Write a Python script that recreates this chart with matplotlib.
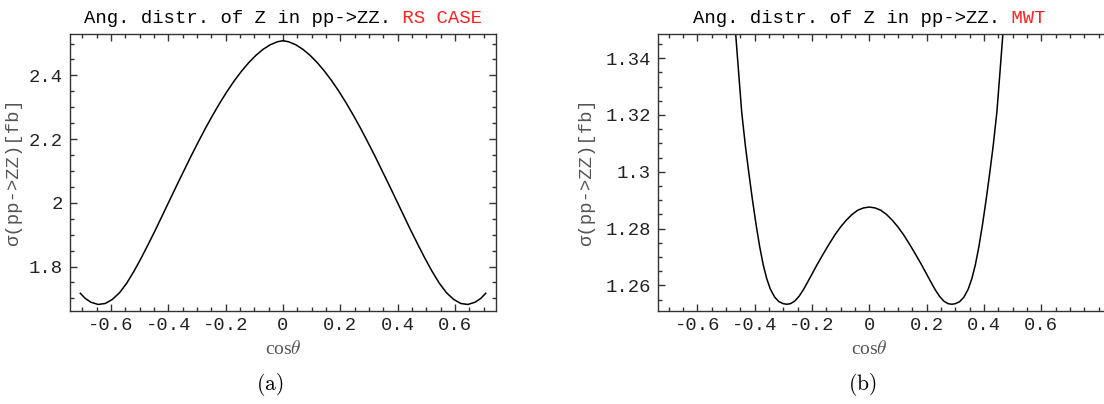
import numpy as np
import matplotlib
matplotlib.use("Agg")
import matplotlib.pyplot as plt
from matplotlib.offsetbox import TextArea, HPacker, AnchoredOffsetbox
from matplotlib.ticker import MultipleLocator

plt.rcParams['mathtext.fontset'] = 'cm'

# ---- data ----
# (a) RS case (symmetric in cos(theta)); left half read, mirrored for right half
rs_cos_half = [-0.707, -0.69, -0.67, -0.645, -0.62, -0.595, -0.57, -0.545, -0.52,
               -0.495, -0.47, -0.445, -0.42, -0.395, -0.37, -0.345, -0.32, -0.295,
               -0.27, -0.245, -0.22, -0.195, -0.17, -0.145, -0.12, -0.095, -0.07,
               -0.045, -0.02, 0.0]
rs_sigma_half = [1.716, 1.700, 1.688, 1.681, 1.684, 1.697, 1.718, 1.748, 1.785,
                 1.826, 1.870, 1.915, 1.962, 2.009, 2.056, 2.102, 2.148, 2.192,
                 2.235, 2.2755, 2.314, 2.350, 2.383, 2.413, 2.4395, 2.4625, 2.4815,
                 2.496, 2.5055, 2.509]

# (b) MWT case (symmetric in cos(theta))
mwt_cos_half = [-0.50, -0.48, -0.466, -0.455, -0.445, -0.432, -0.42, -0.408, -0.395,
                -0.382, -0.37, -0.358, -0.345, -0.33, -0.315, -0.30, -0.288, -0.275,
                -0.26, -0.245, -0.23, -0.215, -0.20, -0.18, -0.16, -0.14, -0.12,
                -0.10, -0.08, -0.06, -0.04, -0.02, 0.0]
mwt_sigma_half = [1.395, 1.368, 1.3485, 1.334, 1.321, 1.309, 1.2995, 1.2905, 1.2815,
                  1.2735, 1.2673, 1.2625, 1.2587, 1.2559, 1.2543, 1.2536, 1.2534, 1.2536,
                  1.2545, 1.2562, 1.2585, 1.2612, 1.2640, 1.2677, 1.2712, 1.2746, 1.2778,
                  1.2806, 1.2830, 1.2850, 1.2865, 1.2873, 1.2876]

title_main = "Ang. distr. of Z in pp->ZZ."
title_a = " RS CASE"
title_b = " MWT"
ylabel = "σ(pp->ZZ)[fb]"
xlabel = r"cos$\theta$"
x_ticks = [-0.6, -0.4, -0.2, 0, 0.2, 0.4, 0.6]
x_ticklabels = ["-0.6", "-0.4", "-0.2", "0", "0.2", "0.4", "0.6"]
ya_ticks = [1.8, 2.0, 2.2, 2.4]
ya_ticklabels = ["1.8", "2", "2.2", "2.4"]
yb_ticks = [1.26, 1.28, 1.30, 1.32, 1.34]
yb_ticklabels = ["1.26", "1.28", "1.3", "1.32", "1.34"]

rs_cos = rs_cos_half + [-c for c in rs_cos_half[-2::-1]]
rs_sigma = rs_sigma_half + rs_sigma_half[-2::-1]
mwt_cos = mwt_cos_half + [-c for c in mwt_cos_half[-2::-1]]
mwt_sigma = mwt_sigma_half + mwt_sigma_half[-2::-1]

W, H = 1104, 404
fig = plt.figure(figsize=(W / 100, H / 100), dpi=100)

mono = "Liberation Mono"
FS = 13.6
spine_col = "#333333"
label_col = "#555555"
red = "#ff2020"


def style(ax, yminor, yticks, ytl, ylabelpad):
    ax.set_xticks(x_ticks)
    ax.set_xticklabels(x_ticklabels, fontfamily=mono, fontsize=FS)
    ax.set_yticks(yticks)
    ax.set_yticklabels(ytl, fontfamily=mono, fontsize=FS)
    ax.xaxis.set_minor_locator(MultipleLocator(0.05))
    ax.yaxis.set_minor_locator(MultipleLocator(yminor))
    ax.tick_params(which='both', direction='in', top=True, right=True,
                   color=spine_col, width=1.0, labelcolor='#222222')
    ax.tick_params(which='major', length=5, pad=5)
    ax.tick_params(which='minor', length=3)
    for s in ax.spines.values():
        s.set_color(spine_col)
        s.set_linewidth(1.0)
    ax.set_xlabel(xlabel, fontfamily="Liberation Serif", fontsize=14,
                  color=label_col)
    ax.set_ylabel(ylabel, fontfamily=mono, fontsize=FS, color=label_col,
                  labelpad=ylabelpad)


def title(ax, red_part, xc):
    t1 = TextArea(title_main, textprops=dict(fontfamily=mono, fontsize=FS,
                                             color='black'))
    t2 = TextArea(red_part, textprops=dict(fontfamily=mono, fontsize=FS,
                                           color=red))
    box = HPacker(children=[t1, t2], sep=0, pad=0, align='baseline')
    anch = AnchoredOffsetbox(loc='lower center', child=box, pad=0, borderpad=0,
                             frameon=False, bbox_to_anchor=(xc, 1.026),
                             bbox_transform=ax.transAxes)
    ax.add_artist(anch)


bot = 1 - 310.5 / H
top = 1 - 34 / H

# (a)
axa = fig.add_axes([70 / W, bot, (496 - 70) / W, top - bot])
axa.plot(rs_cos, rs_sigma, color='black', lw=1.1)
axa.set_xlim(-0.743, 0.743)
axa.set_ylim(1.662, 2.53)
style(axa, 0.05, ya_ticks, ya_ticklabels, 5)
axa.xaxis.set_label_coords(0.5, -0.105)
title(axa, title_a, 0.5)

# (b) right part of frame runs off the picture
xl_b = (-0.738, 0.9)
px_per_unit = 286.7
axb = fig.add_axes([657.7 / W, bot, (xl_b[1] - xl_b[0]) * px_per_unit / W, top - bot])
axb.plot(mwt_cos, mwt_sigma, color='black', lw=1.1)
axb.set_xlim(*xl_b)
axb.set_ylim(1.2512, 1.3485)
style(axb, 0.005, yb_ticks, yb_ticklabels, 7)
xc_b = (0 - xl_b[0]) / (xl_b[1] - xl_b[0])
axb.xaxis.set_label_coords(xc_b, -0.105)
title(axb, title_b, xc_b)

fig.text(270 / W, 1 - 385 / H, r"$\mathrm{(a)}$", fontsize=15.5, ha='center', va='center')
fig.text(862 / W, 1 - 385 / H, r"$\mathrm{(b)}$", fontsize=15.5, ha='center', va='center')

fig.savefig("out.png", dpi=100)
